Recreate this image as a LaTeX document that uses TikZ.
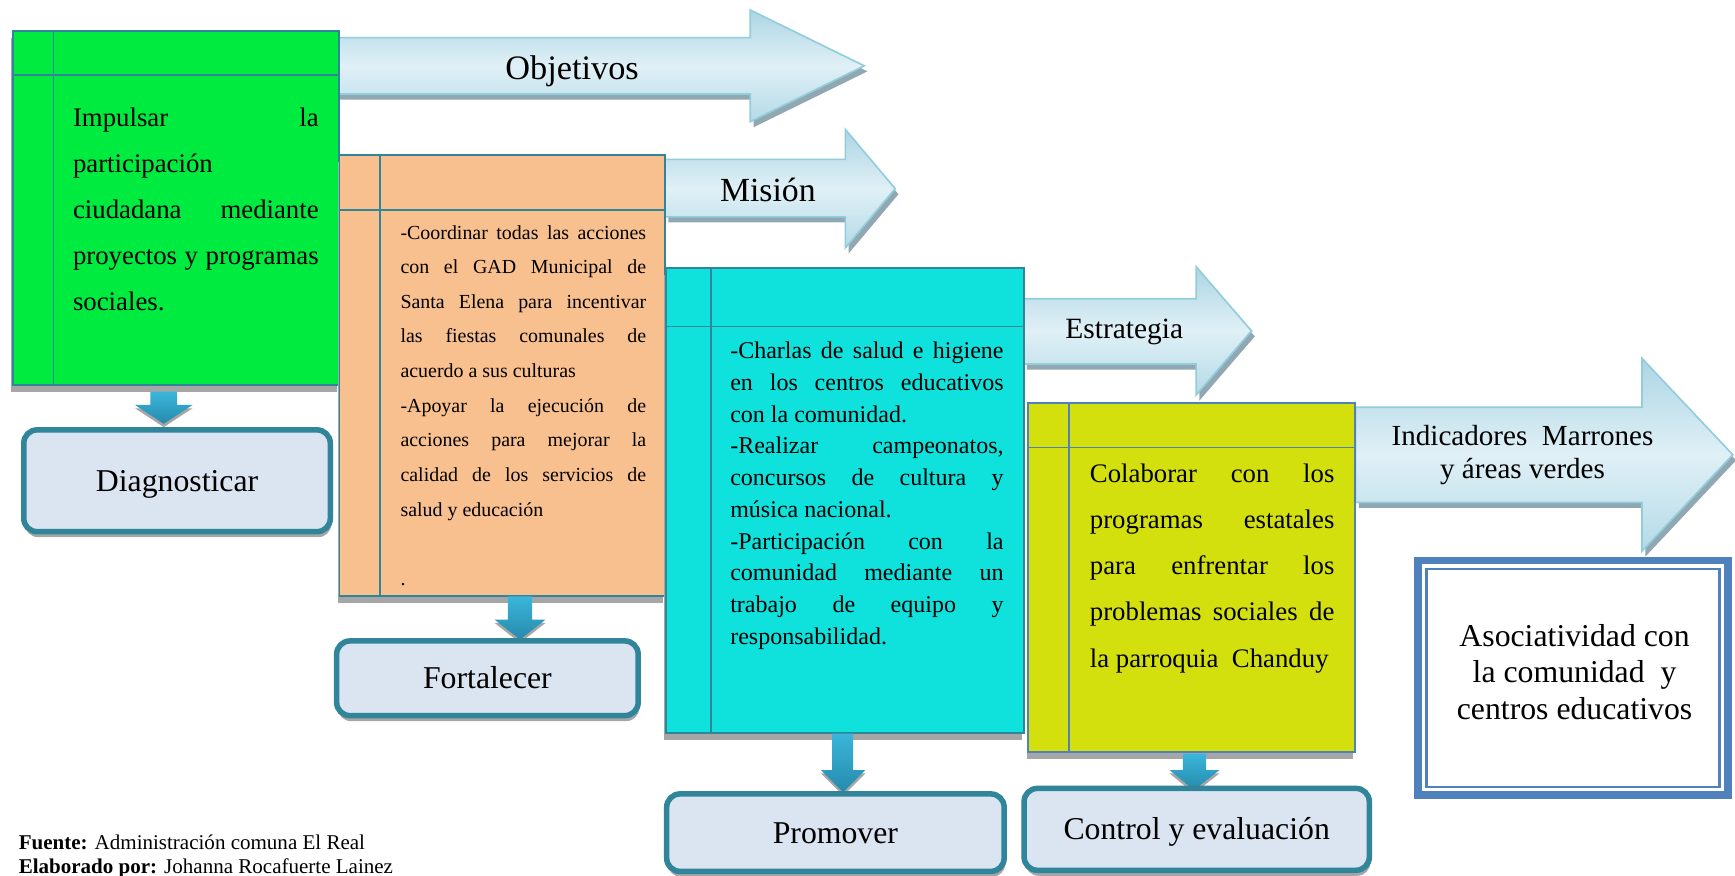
\documentclass[tikz,border=0pt]{standalone}
\usepackage{fontspec}
\setmainfont{Liberation Serif}
\usetikzlibrary{shadows,calc}
\definecolor{gfill}{RGB}{0,235,64}
\definecolor{ofill}{RGB}{249,192,143}
\definecolor{cfill}{RGB}{15,226,221}
\definecolor{yfill}{RGB}{212,224,14}
\definecolor{tealline}{RGB}{49,133,155}
\definecolor{blueline}{RGB}{79,129,189}
\definecolor{rfill}{RGB}{219,229,241}
\definecolor{boxshadow}{RGB}{166,166,166}
\definecolor{arrline}{RGB}{146,205,220}
\definecolor{arrshadow}{RGB}{145,168,178}
\definecolor{arrtop}{RGB}{172,213,228}
\definecolor{arrmid}{RGB}{224,240,246}
\definecolor{arrbot}{RGB}{180,218,231}
\definecolor{dtop}{RGB}{58,182,218}
\definecolor{dbot}{RGB}{38,138,172}
\newcommand{\jl}[1]{\makebox[\linewidth][s]{#1}}
\begin{document}
\begin{tikzpicture}[x=1pt,y=-1pt,
 panel/.style={draw=tealline, line width=1.5pt, anchor=north west, inner sep=0pt, outer sep=0pt,
   drop shadow={shadow xshift=-1.5pt, shadow yshift=-6pt, fill=boxshadow, opacity=1}},
 rbox/.style={draw=tealline, fill=rfill, line width=5pt, rounded corners=12pt, inner sep=0pt,
   drop shadow={shadow xshift=1pt, shadow yshift=-5pt, fill=boxshadow, opacity=1},
   font=\fontsize{28.7}{33}\selectfont, text height=19pt, text depth=0pt},
 barrow/.style={draw=arrline, line width=1.5pt, top color=arrtop, bottom color=arrbot, middle color=arrmid},
 bshadow/.style={fill=arrshadow},
 darrow/.style={top color=dtop, bottom color=dbot},
 dshadow/.style={fill=boxshadow},
 txt/.style={inner sep=0pt, outer sep=0pt, anchor=base west},
 lbl/.style={inner sep=0pt, outer sep=0pt, anchor=base},
 sepline/.style={line width=1.5pt}
]
\fill[white] (0,0) rectangle (1568,791);
\useasboundingbox (0,0) rectangle (1568,791);

% ---- big arrows ----
\path[bshadow, shift={(3,5)}] (304,34) -- (678,34) -- (678,9) -- (781,59.5) -- (678,110) -- (678,85) -- (304,85) -- cycle;
\path[barrow] (304,34) -- (678,34) -- (678,9) -- (781,59.5) -- (678,110) -- (678,85) -- (304,85) -- cycle;
\node[lbl, font=\fontsize{31}{35}\selectfont] (obj) at (517,72) {Objetivos};

\path[bshadow, shift={(3,5)}] (601,144) -- (764,144) -- (764,117) -- (809,170.5) -- (764,224) -- (764,196) -- (601,196) -- cycle;
\path[barrow] (601,144) -- (764,144) -- (764,117) -- (809,170.5) -- (764,224) -- (764,196) -- (601,196) -- cycle;
\node[lbl, font=\fontsize{30.5}{35}\selectfont] (mis) at (694,182) {Misión};

\path[bshadow, shift={(3,5)}] (925,270) -- (1081,270) -- (1081,241) -- (1131,299) -- (1081,357) -- (1081,329) -- (925,329) -- cycle;
\path[barrow] (925,270) -- (1081,270) -- (1081,241) -- (1131,299) -- (1081,357) -- (1081,329) -- (925,329) -- cycle;
\node[lbl, font=\fontsize{26.6}{31}\selectfont] (est) at (1016,306) {Estrategia};

\path[bshadow, shift={(3,5)}] (1225,368) -- (1484,368) -- (1484,324) -- (1566,411) -- (1484,498) -- (1484,454) -- (1225,454) -- cycle;
\path[barrow] (1225,368) -- (1484,368) -- (1484,324) -- (1566,411) -- (1484,498) -- (1484,454) -- (1225,454) -- cycle;
\node[inner sep=0pt, align=center, font=\fontsize{26.3}{30}\selectfont] (ind) at (1376,411) {Indicadores~~Marrones\\y áreas verdes};

% ---- panels ----
\node[panel, fill=gfill, minimum width=295pt, minimum height=320pt] (green) at (11.5,28) {};
\draw[sepline, tealline] ($(green.north west)+(0,40)$) -- ($(green.north east)+(0,40)$);
\draw[sepline, tealline] ($(green.north west)+(37,0)$) -- ($(green.south west)+(37,0)$);

\node[panel, fill=ofill, minimum width=294.3pt, minimum height=398.6pt] (orange) at (306.7,140) {};
\draw[sepline, tealline] ($(orange.north west)+(0,50)$) -- ($(orange.north east)+(0,50)$);
\draw[sepline, tealline] ($(orange.north west)+(36.7,0)$) -- ($(orange.south west)+(36.7,0)$);

\node[panel, fill=cfill, minimum width=323.8pt, minimum height=420.2pt] (cyan) at (601.6,242.5) {};
\draw[sepline, tealline] ($(cyan.north west)+(0,52.7)$) -- ($(cyan.north east)+(0,52.7)$);
\draw[sepline, tealline] ($(cyan.north west)+(40.7,0)$) -- ($(cyan.south west)+(40.7,0)$);

\node[panel, draw=blueline, fill=yfill, minimum width=295.3pt, minimum height=315.4pt] (yellow) at (929.3,364.5) {};
\draw[sepline, blueline] ($(yellow.north west)+(0,40)$) -- ($(yellow.north east)+(0,40)$);
\draw[sepline, blueline] ($(yellow.north west)+(37,0)$) -- ($(yellow.south west)+(37,0)$);

% ---- panel texts ----
\node[txt] (gtxt) at (66,114.6) {\parbox[t]{222pt}{\fontsize{24.2}{41.5}\selectfont
\jl{Impulsar la}\\
participación\\
\jl{ciudadana mediante}\\
\jl{proyectos y programas}\\
sociales.}};

\node[txt] (otxt) at (362,216) {\parbox[t]{222pt}{\fontsize{18}{31.3}\selectfont
\jl{-Coordinar todas las acciones}\\
\jl{con el GAD Municipal de}\\
\jl{Santa Elena para incentivar}\\
\jl{las fiestas comunales de}\\
acuerdo a sus culturas\\
\jl{-Apoyar la ejecución de}\\
\jl{acciones para mejorar la}\\
\jl{calidad de los servicios de}\\
salud y educación\\
\mbox{}\\
.}};

\node[txt] (ctxt) at (660,324) {\parbox[t]{247pt}{\fontsize{21.7}{28.7}\selectfont
\jl{-Charlas de salud e higiene}\\
\jl{en los centros educativos}\\
con la comunidad.\\
\jl{-Realizar campeonatos,}\\
\jl{concursos de cultura y}\\
música nacional.\\
\jl{-Participación con la}\\
\jl{comunidad mediante un}\\
\jl{trabajo de equipo y}\\
responsabilidad.}};

\node[txt] (ytxt) at (985,436) {\parbox[t]{221pt}{\fontsize{24.2}{41.7}\selectfont
\jl{Colaborar con los}\\
\jl{programas estatales}\\
\jl{para enfrentar los}\\
\jl{problemas sociales de}\\
la parroquia~~Chanduy}};

% ---- down arrows ----
\fill[dshadow, shift={(0,3)}] (122,366) -- (174,366) -- (148,383) -- cycle;
\path[darrow] (136,354) -- (160,354) -- (160,366) -- (174,366) -- (148,383) -- (122,366) -- (136,366) -- cycle;
\fill[dshadow, shift={(0,3)}] (447,560) -- (493,560) -- (470,578) -- cycle;
\path[darrow] (459,539) -- (481,539) -- (481,560) -- (493,560) -- (470,578) -- (447,560) -- (459,560) -- cycle;
\fill[dshadow, shift={(0,3)}] (742,696) -- (782,696) -- (762,716) -- cycle;
\path[darrow] (752,663) -- (771,663) -- (771,696) -- (782,696) -- (762,716) -- (742,696) -- (752,696) -- cycle;
\fill[dshadow, shift={(0,3)}] (1057,696) -- (1102,696) -- (1079,714) -- cycle;
\path[darrow] (1069,681) -- (1090,681) -- (1090,696) -- (1102,696) -- (1079,714) -- (1057,696) -- (1069,696) -- cycle;

% ---- rounded boxes ----
\node[rbox, minimum width=277pt, minimum height=92pt] (diag) at (160,434.5) {Diagnosticar};
\node[rbox, minimum width=272.5pt, minimum height=67.5pt] (fort) at (440.5,613) {Fortalecer};
\node[rbox, minimum width=305pt, minimum height=70pt] (prom) at (755,752.5) {Promover};
\node[rbox, minimum width=312pt, minimum height=74pt] (ctrl) at (1081.5,749.5) {Control y evaluación};

% ---- Asociatividad box ----
\node[draw=blueline, fill=white, line width=7pt, inner sep=0pt, minimum width=280pt, minimum height=212pt] (asoc) at (1421.5,612.5) {};
\draw[blueline, line width=2.2pt] ($(asoc.north west)+(11,11)$) rectangle ($(asoc.south east)+(-11,-11)$);
\node[inner sep=0pt, align=center, font=\fontsize{28.7}{33}\selectfont] (asoctxt) at (1423,607) {Asociatividad con\\la comunidad~~y\\centros educativos};

% ---- footer ----
\node[txt] (foot) at (17,768) {\parbox[t]{500pt}{\fontsize{19}{21}\selectfont
\textbf{Fuente:} Administración comuna El Real\\
\textbf{Elaborado por:} Johanna Rocafuerte Lainez}};
\end{tikzpicture}
\end{document}
